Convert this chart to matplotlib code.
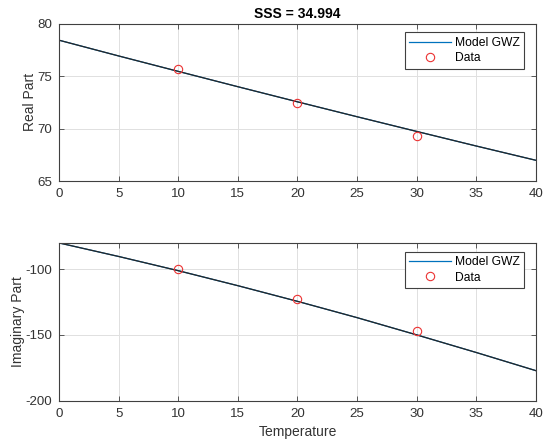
import matplotlib
matplotlib.use("Agg")
import matplotlib.pyplot as plt

plt.rcParams['font.family'] = ['Liberation Sans', 'DejaVu Sans']
plt.rcParams['axes.unicode_minus'] = False

# Model curve
temp_model = [0, 5, 10, 15, 20, 25, 30, 35, 40]
real_model = [78.42, 76.92, 75.45, 73.99, 72.55, 71.13, 69.73, 68.34, 66.98]
imag_model = [-80.0, -90.3, -101.1, -112.5, -124.4, -136.8, -149.9, -163.3, -177.1]

# Measured data
temp_data = [10, 20, 30]
real_data = [75.7, 72.4, 69.3]
imag_data = [-100.0, -122.6, -147.3]

title_text = "SSS = 34.994"
xticks = [0, 5, 10, 15, 20, 25, 30, 35, 40]

fig = plt.figure(figsize=(5.51, 4.43), dpi=100)
ax1 = fig.add_axes([0.1076, 0.5914, 0.8646, 0.3551])
ax2 = fig.add_axes([0.1076, 0.0955, 0.8646, 0.3560])

blue = (0.0, 0.447, 0.741)
red = (0.92, 0.2, 0.2)

def style(ax):
    ax.set_xlim(0, 40)
    ax.set_xticks(xticks)
    ax.grid(True, color='0.88', linewidth=0.7)
    ax.set_axisbelow(True)
    for s in ax.spines.values():
        s.set_color('0.25')
        s.set_linewidth(0.8)
    ax.tick_params(direction='in', top=True, right=True, length=3.5,
                   width=0.6, color='0.25', labelsize=9.6, labelcolor='0.2')
    ax.tick_params(axis='x', pad=5)
    ax.tick_params(axis='y', pad=5)

for ax, ym, yd, ylab in [(ax1, real_model, real_data, 'Real Part'),
                         (ax2, imag_model, imag_data, 'Imaginary Part')]:
    hb, = ax.plot(temp_model, ym, color=blue, linewidth=0.9, label='Model GWZ')
    ax.plot(temp_model, ym, color='0.15', linewidth=0.9)
    hd, = ax.plot(temp_data, yd, 'o', markerfacecolor='none', markeredgecolor=red,
                  markersize=6, markeredgewidth=0.8, label='Data')
    style(ax)
    ax.set_ylabel(ylab, fontsize=10, color='0.2', labelpad=0.5)
    leg = ax.legend(handles=[hb, hd], loc='upper right', bbox_to_anchor=(0.976, 0.945),
                    fancybox=False, framealpha=1, edgecolor='0.25', fontsize=8.7,
                    handlelength=3.4, borderpad=0.38, labelspacing=0.28,
                    handletextpad=0.35, borderaxespad=0)
    leg.get_frame().set_linewidth(0.8)

ax1.set_ylim(65, 80)
ax1.set_yticks([65, 70, 75, 80])
ax2.set_ylim(-200, -80)
ax2.set_yticks([-200, -150, -100])
ax1.set_title(title_text, fontsize=10, fontweight='bold', pad=4)
ax2.set_xlabel('Temperature', fontsize=10, color='0.2', labelpad=4)

fig.savefig('out.png', dpi=100)
